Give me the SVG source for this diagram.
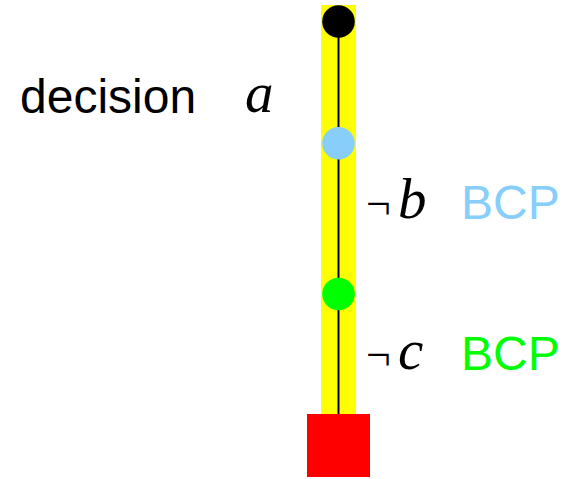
<svg xmlns="http://www.w3.org/2000/svg" width="567" height="479" viewBox="0 0 567 479">
<style>
.sans{font-family:"Liberation Sans",Arial,sans-serif;font-size:48px}
.it{font-family:"Liberation Serif","Times New Roman",serif;font-style:italic;font-size:57px;fill:#000}
.neg{font-family:"Liberation Serif","Times New Roman",serif;font-size:44px;fill:#000}
</style>
<rect x="321" y="5" width="35" height="409" fill="#ffff00"/>
<g id="connectors">
<line x1="338.5" y1="22" x2="338.5" y2="414" stroke="#000" stroke-width="2"/>
</g>
<g id="top"><circle cx="338.5" cy="21.5" r="16.3" fill="#000"/></g>
<g id="b"><circle cx="338.5" cy="143.3" r="16.3" fill="#87cefa"/></g>
<g id="c"><circle cx="338.5" cy="294" r="16.3" fill="#00ff00"/></g>
<g id="end"><rect x="307" y="414" width="63" height="63" fill="#ff0000"/></g>
<g id="labels">
<text class="sans" x="20" y="113">decision</text>
<text class="it" x="245" y="112">a</text>
<text class="neg" x="366" y="219">¬</text>
<text class="it" x="398" y="218">b</text>
<text class="sans" x="461" y="219" fill="#87cefa">BCP</text>
<text class="neg" x="366" y="370">¬</text>
<text class="it" x="398" y="369">c</text>
<text class="sans" x="461" y="370" fill="#00ff00">BCP</text>
</g>
</svg>
